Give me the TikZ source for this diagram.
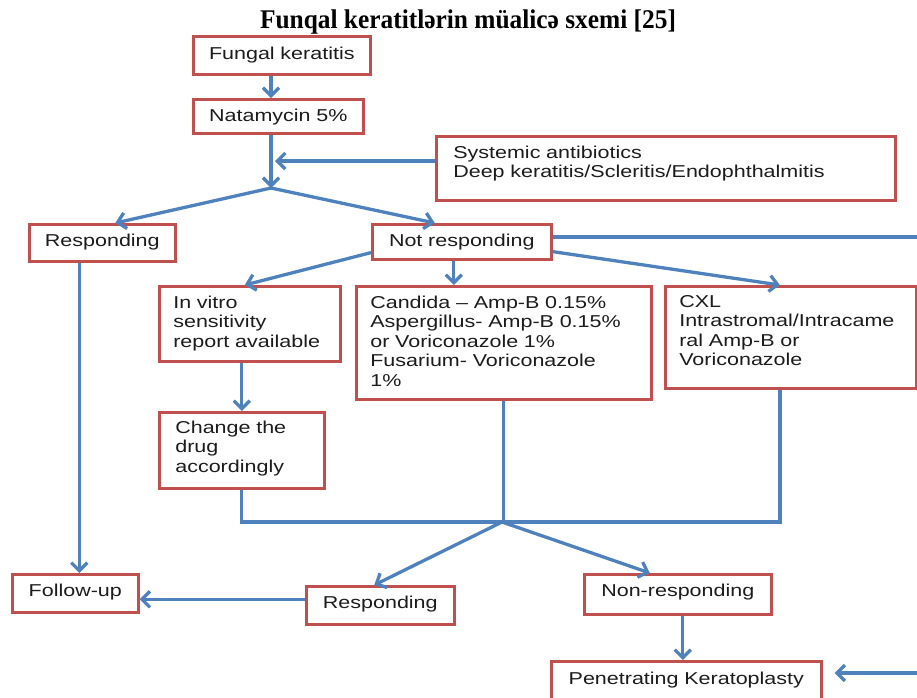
\documentclass[tikz,border=0pt]{standalone}
\usepackage{fontspec}
\setmainfont{Liberation Sans}[FakeStretch=1.25]
\newfontfamily\titlefont{Liberation Serif}[FakeStretch=0.94]
\usetikzlibrary{arrows.meta,calc}
\definecolor{boxred}{HTML}{C0504D}
\definecolor{arrblue}{HTML}{4F81BD}
\definecolor{txt}{HTML}{1C1C1C}
\newcommand{\boxfont}{\fontsize{17.2}{19.5}\selectfont}
\tikzset{
  box/.style={draw=boxred, line width=2.6pt, fill=white, text=txt, font=\boxfont,
    anchor=north west, align=left, inner ysep=0pt, inner xsep=16pt},
  onebox/.style={box, align=center, inner xsep=8pt},
  link/.style={draw=arrblue, line width=3.3pt},
  arr/.style={link, -{Straight Barb[length=8pt,width=16pt]}}
}
\begin{document}
\begin{tikzpicture}[x=1pt,y=-1pt]
\useasboundingbox (0,0) rectangle (917,697);

\node[font=\titlefont\bfseries\fontsize{27}{30}\selectfont, anchor=base] (title) at (468,28) {Funqal keratitlərin müalicə sxemi [25]};

\node[onebox, text width=161pt, text height=23.5pt, text depth=14.5pt] (fung) at (192,35) {Fungal keratitis};
\node[onebox, text width=154pt, text height=22pt, text depth=12pt] (nat) at (192,98) {Natamycin 5\%};
\node[box, inner xsep=17pt, text width=425pt, text height=22pt, text depth=42pt] (sys) at (435,135) {Systemic antibiotics\\Deep keratitis/Scleritis/Endophthalmitis};

\node[onebox, text width=130pt, text height=22pt, text depth=15pt] (resp1) at (28,223) {Responding};
\node[onebox, text width=163pt, text height=22pt, text depth=13pt] (notr) at (371,223) {Not responding};

\node[box, inner xsep=14pt, text width=153pt, text height=22pt, text depth=53pt] (vitro) at (158,285) {In vitro\\sensitivity\\report available};
\node[box, inner xsep=14pt, text width=267pt, text height=22pt, text depth=91pt] (cand) at (355,285) {Candida -- Amp-B 0.15\%\\Aspergillus- Amp-B 0.15\%\\or Voriconazole 1\%\\Fusarium- Voriconazole\\1\%};
\node[box, inner xsep=14pt, text width=223pt, text height=21pt, text depth=81pt] (cxl) at (664,285) {CXL\\Intrastromal/Intracame\\ral Amp-B or\\Voriconazole};
\node[box, inner xsep=16pt, text width=133pt, text height=21pt, text depth=55pt] (change) at (158,411) {Change the\\drug\\accordingly};

\node[onebox, text width=110pt, text height=22pt, text depth=16pt] (follow) at (11,573) {Follow-up};
\node[onebox, text width=132pt, text height=22pt, text depth=16pt] (resp2) at (305,585) {Responding};
\node[onebox, text width=171pt, text height=22pt, text depth=18pt] (nonr) at (583,573) {Non-responding};
\node[onebox, text width=254pt, text height=23pt, text depth=17pt] (pk) at (550,660) {Penetrating Keratoplasty};

\coordinate (trunk) at (271,0);
\coordinate (split) at (271,188);
\coordinate (sysin) at (275,161);
\coordinate (offR) at (920,237);
\coordinate (offB) at (920,673);
\coordinate (merge) at (502,522);
\coordinate (mergeR) at (780,522);

\draw[arr] (fung.south -| trunk) -- (nat.north -| trunk);
\draw[arr] (nat.south -| trunk) -- (split);
\draw[arr] (sys.west |- sysin) -- (sysin);
\draw[arr] (split) -- ([xshift=13pt]resp1.north);
\draw[arr] (split) -- ([xshift=-27pt]notr.north);

\draw[link] (notr.east |- offR) -- (offR);
\draw[arr] ([yshift=8pt]notr.south west) -- ([xshift=-5pt]vitro.north);
\draw[arr] ([xshift=-8pt]notr.south) -- ([xshift=-8pt]notr.south |- cand.north);
\draw[arr] ([yshift=9pt]notr.south east) -- ([xshift=-11pt]cxl.north);

\draw[arr] ([xshift=-23pt]resp1.south) -- ([xshift=-23pt]resp1.south |- follow.north);
\draw[arr] (vitro.south -| change.north) -- (change.north);

\draw[link] (change.south) |- (mergeR) -- (mergeR |- cxl.south);
\draw[link] (cand.south) -- (cand.south |- merge);
\draw[arr] (merge) -- ([xshift=-6pt]resp2.north);
\draw[arr] (merge) -- ([xshift=-28pt]nonr.north);

\draw[arr] ([yshift=6pt]resp2.west) -- ([yshift=6pt]resp2.west -| follow.east);
\draw[arr] ([xshift=5pt]nonr.south) -- ([xshift=5pt]nonr.south |- pk.north);
\draw[arr] (offB) -- ($(offB -| pk.east)+(12,0)$);
\end{tikzpicture}
\end{document}
